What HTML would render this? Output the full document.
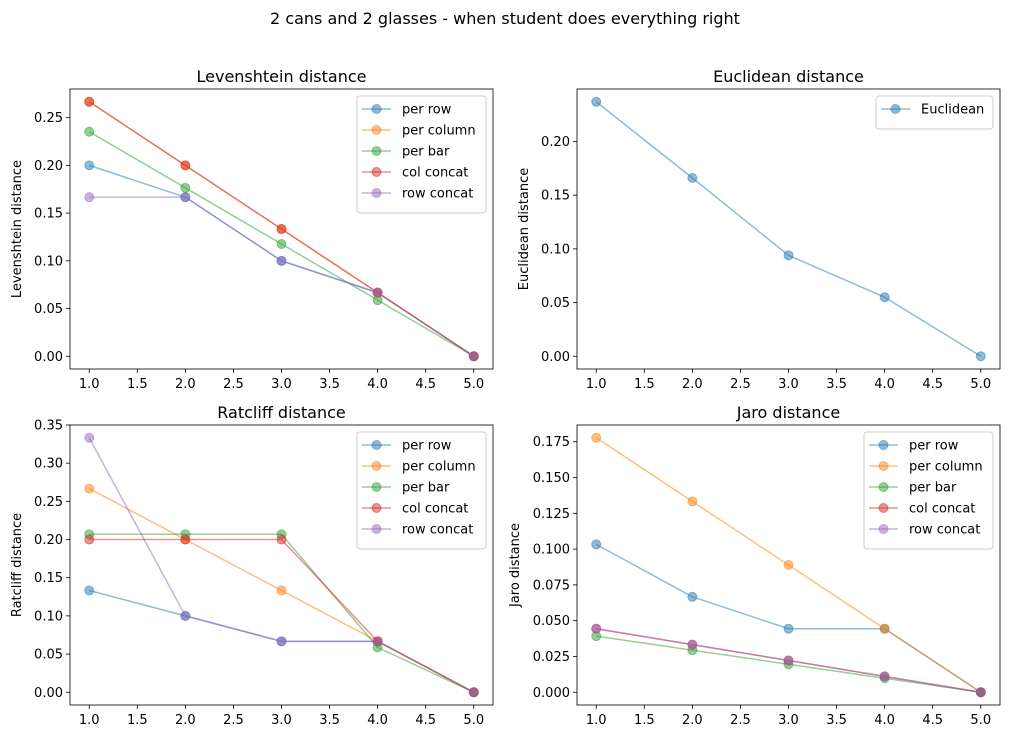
<!DOCTYPE html>
<html><head><meta charset="utf-8"><style>
body{margin:0;background:#fff}
svg text{font-family:"DejaVu Sans","Liberation Sans",sans-serif;fill:#000}
</style></head><body>
<svg id="fig" width="1010" height="739" xmlns="http://www.w3.org/2000/svg">
<rect width="1010" height="739" fill="#fff"/>
<text x="505" y="24" font-size="16" text-anchor="middle">2 cans and 2 glasses - when student does everything right</text>
</svg>
<script>
const xValues=[1,2,3,4,5];
const seriesNames=["per row","per column","per bar","col concat","row concat"];
const colors=["#1f77b4","#ff7f0e","#2ca02c","#d62728","#9467bd"];
const levRow=[0.2,0.1667,0.1,0.0667,0];
const levCol=[0.2667,0.2,0.1333,0.0667,0];
const levBar=[0.2353,0.1765,0.1176,0.0588,0];
const levColConcat=[0.2667,0.2,0.1333,0.0667,0];
const levRowConcat=[0.1667,0.1667,0.1,0.0667,0];
const eucValues=[0.237,0.166,0.094,0.055,0];
const ratRow=[0.1333,0.1,0.0667,0.0667,0];
const ratCol=[0.2667,0.2,0.1333,0.0667,0];
const ratBar=[0.2069,0.2069,0.2069,0.0588,0];
const ratColConcat=[0.2,0.2,0.2,0.0667,0];
const ratRowConcat=[0.3333,0.1,0.0667,0.0667,0];
const jaroRow=[0.1033,0.0667,0.0444,0.0444,0];
const jaroCol=[0.1778,0.1333,0.0889,0.0444,0];
const jaroBar=[0.0392,0.0294,0.0196,0.0098,0];
const jaroColConcat=[0.0444,0.0333,0.0222,0.0111,0];
const jaroRowConcat=[0.0444,0.0333,0.0222,0.0111,0];
const xTicks=[1,1.5,2,2.5,3,3.5,4,4.5,5];
const levTicks=[0,0.05,0.1,0.15,0.2,0.25];
const eucTicks=[0,0.05,0.1,0.15,0.2];
const ratTicks=[0,0.05,0.1,0.15,0.2,0.25,0.3,0.35];
const jaroTicks=[0,0.025,0.05,0.075,0.1,0.125,0.15,0.175];

const NS="http://www.w3.org/2000/svg";
const svg=document.getElementById('fig');
function mk(tag,attrs,parent){const e=document.createElementNS(NS,tag);for(const k in attrs)e.setAttribute(k,attrs[k]);(parent||svg).appendChild(e);return e;}

function panel(opt){
  const g=mk('g',{});
  
  
  const L=opt.x0,R=opt.x0+423,T=opt.y0,B=opt.y0+280;
  let all=[];opt.series.forEach(s=>all=all.concat(s));
  const mx=Math.max(...all),mn=Math.min(...all),pad=(mx-mn)*0.05;
  const ylo=mn-pad,yhi=mx+pad;
  const xs=v=>L+(v-0.8)/4.4*423;
  const ys=v=>B-(v-ylo)/(yhi-ylo)*280;
  const t=mk('text',{x:(L+R)/2,y:T-7,'font-size':16,'text-anchor':'middle'},g);t.textContent=opt.title;
  
  
  xTicks.forEach(v=>{const x=xs(v);mk('line',{x1:x,x2:x,y1:B,y2:B+4,stroke:'#000','stroke-width':0.8},g);
    const tx=mk('text',{x:x,y:B+19,'font-size':13,'text-anchor':'middle'},g);tx.textContent=v.toFixed(1);
    
    });
  opt.ticks.forEach(v=>{const y=ys(v);mk('line',{x1:L-4,x2:L,y1:y,y2:y,stroke:'#000','stroke-width':0.8},g);
    const tx=mk('text',{x:L-7,y:y+4.5,'font-size':13,'text-anchor':'end'},g);tx.textContent=v.toFixed(opt.dec);
    
    });
  const yl=mk('text',{x:0,y:0,'font-size':13,'text-anchor':'middle',transform:`translate(${opt.ylx},${(T+B)/2}) rotate(-90)`},g);yl.textContent=opt.ylabel;
  
  
  opt.series.forEach((s,i)=>{
    const c=opt.colors[i];
    const pl=mk('polyline',{points:s.map((v,j)=>xs(xValues[j])+','+ys(v)).join(' '),fill:'none',stroke:c,'stroke-width':1.5,'stroke-opacity':0.5},g);
    
    
    s.forEach((v,j)=>{const m=mk('circle',{cx:xs(xValues[j]),cy:ys(v),r:4.5,fill:c,'fill-opacity':0.5,stroke:c,'stroke-opacity':0.5,'stroke-width':1},g);
      
      });
  });
  mk('rect',{x:L,y:T,width:423,height:280,fill:'none',stroke:'#000','stroke-width':0.8},g);
  // legend
  const n=opt.names.length,lw=opt.legW,lh=12+n*21,lx=R-7-lw,ly=T+7;
  const lg=mk('g',{},g);
  
  
  mk('rect',{x:lx,y:ly,width:lw,height:lh,rx:3,fill:'#fff','fill-opacity':0.8,stroke:'#ccc','stroke-width':1},lg);
  opt.names.forEach((nm,i)=>{const y=ly+13+i*21;const c=opt.colors[i];
    mk('line',{x1:lx+5,x2:lx+34,y1:y,y2:y,stroke:c,'stroke-width':1.5,'stroke-opacity':0.5},lg);
    mk('circle',{cx:lx+19.5,cy:y,r:4.5,fill:c,'fill-opacity':0.5,stroke:c,'stroke-opacity':0.5},lg);
    const tx=mk('text',{x:lx+45,y:y+4.5,'font-size':13},lg);tx.textContent=nm;
    
    });
}
panel({key:'levenshtein',x0:70,y0:89,title:'Levenshtein distance',ylabel:'Levenshtein distance',ylx:21,ticks:levTicks,dec:2,
  series:[levRow,levCol,levBar,levColConcat,levRowConcat],names:seriesNames,colors:colors,legW:129});
panel({key:'euclidean',x0:577,y0:89,title:'Euclidean distance',ylabel:'Euclidean distance',ylx:528,ticks:eucTicks,dec:2,
  series:[eucValues],names:['Euclidean'],colors:[colors[0]],legW:117});
panel({key:'ratcliff',x0:70,y0:425,title:'Ratcliff distance',ylabel:'Ratcliff distance',ylx:21,ticks:ratTicks,dec:2,
  series:[ratRow,ratCol,ratBar,ratColConcat,ratRowConcat],names:seriesNames,colors:colors,legW:129});
panel({key:'jaro',x0:577,y0:425,title:'Jaro distance',ylabel:'Jaro distance',ylx:519,ticks:jaroTicks,dec:3,
  series:[jaroRow,jaroCol,jaroBar,jaroColConcat,jaroRowConcat],names:seriesNames,colors:colors,legW:129});
</script>
</body></html>
